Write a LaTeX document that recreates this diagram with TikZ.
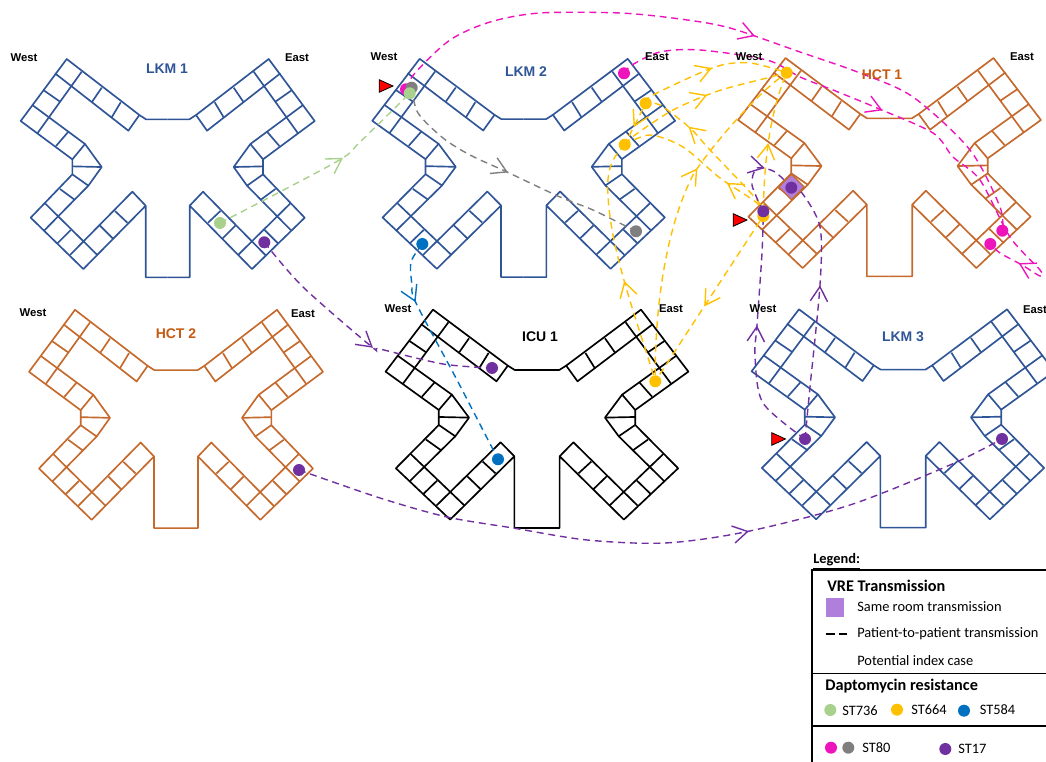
\documentclass[tikz,border=0pt]{standalone}
\usepackage{fontspec}
\setmainfont{Liberation Sans}
\newfontfamily\legendfont{Carlito}
\usetikzlibrary{arrows.meta, backgrounds, decorations.markings}
\definecolor{lkmblue}{HTML}{2F5597}
\definecolor{hctorange}{HTML}{C5692C}
\definecolor{titleorange}{HTML}{C55A11}
\definecolor{stgreen}{HTML}{A9D18E}
\definecolor{styellow}{HTML}{FFC000}
\definecolor{stblue}{HTML}{0070C0}
\definecolor{stpink}{HTML}{EE14BC}
\definecolor{stgray}{HTML}{7F7F7F}
\definecolor{stpurple}{HTML}{7030A0}
\definecolor{roomfill}{HTML}{B07FDC}
\begin{document}
\begin{tikzpicture}[
    x=0.75pt, y=-0.75pt,
    side/.style={font=\fontsize{8.5}{10}\bfseries\selectfont, inner sep=0pt},
    wardname/.style={font=\fontsize{10.5}{12}\bfseries\selectfont, inner sep=0pt},
    dot/.style={circle, fill=#1, inner sep=0pt, minimum size=9pt},
    trans/.style={line width=1.05pt, dash pattern=on 5.2pt off 3.6pt},
    tip/.style={postaction={decorate, decoration={markings, mark=at position #1 with
                {\arrow[solid, line width=1.05pt]{Straight Barb[length=11pt, width=13pt]}}}}},
    legend/.style={font=\legendfont\fontsize{10.8}{12}\selectfont, inner sep=0pt, anchor=west},
    legendhead/.style={font=\legendfont\fontsize{12.2}{13}\bfseries\selectfont, inner sep=0pt, anchor=west},
    ward/.pic={
        \foreach \s in {1,-1} {
            \begin{scope}[xscale=\s, scale=1/3, line width=1.25pt, line join=round]
            \draw[pic actions] (0,-142) -- (-65,-142) -- (-85,-155) -- (-303,-323) -- (-441,-137)
                -- (-286,-22) -- (-286,23) -- (-411,153) -- (-253,307) -- (-66,117) -- (-66,332) -- (0,332);
            \draw[pic actions] (-85,-155) -- (-118,-108) -- (-338,-280);
            \draw[pic actions] (-258,-285) -- (-391,-100);
            \draw[pic actions] (-406,-185) -- (-248,-68) -- (-286,-22);
            \draw[pic actions] (-248,-68) -- (-198,1) -- (-238,57) -- (-286,23);
            \draw[pic actions] (-286,-1) -- (-198,1);
            \draw[pic actions] (-238,57) -- (-371,192);
            \draw[pic actions] (-368,110) -- (-211,265);
            \draw[pic actions] (-66,117) -- (-106,75) -- (-293,265);
            % room walls
            \draw[pic actions] (-373,-230) -- (-323,-195) (-228,-193) -- (-198,-237) (-168,-148) -- (-141,-193);
            \draw[pic actions] (-335,-62) -- (-298,-105) (-323,67) -- (-278,100);
            \draw[pic actions] (-158,133) -- (-121,168) (-203,177) -- (-163,217) (-331,230) -- (-291,190);
            \end{scope}
        }
    },
    indexmark/.pic={
        \draw[fill=red, line width=0.6pt] (-6.8,-6.3) -- (7,0) -- (-6.8,6.3) -- cycle;
    },
]
\path[use as bounding box, clip] (0,0) rectangle (1046,762);

% ward labels
\node[side]                     (westa) at (24,58)    {West};
\node[side]                     (easta) at (297,58)   {East};
\node[side]                     (westb) at (384,57)   {West};
\node[side]                     (eastb) at (657,57)   {East};
\node[side]                     (westc) at (749,57)   {West};
\node[side]                     (eastc) at (1022,57)  {East};
\node[side]                     (westd) at (33,313)   {West};
\node[side]                     (eastd) at (303,314)  {East};
\node[side]                     (weste) at (398,309)  {West};
\node[side]                     (easte) at (671,309)  {East};
\node[side]                     (westf) at (763,309)  {West};
\node[side]                     (eastf) at (1035,310) {East};
\node[wardname, lkmblue]        (lkma)  at (167,69)   {LKM 1};
\node[wardname, lkmblue]        (lkmb)  at (526,72)   {LKM 2};
\node[wardname, titleorange]    (hcta)  at (882,75)   {HCT 1};
\node[wardname, titleorange]    (hctb)  at (176,334)  {HCT 2};
\node[wardname]                 (icua)  at (540,337)  {ICU 1};
\node[wardname, lkmblue]        (lkmc)  at (903,337)  {LKM 3};

% same room patch
\node[draw=hctorange, fill=roomfill, line width=0.9pt, rotate=45, minimum size=13.5pt, inner sep=0pt] (room) at (791.5,187) {};

% isolates
\node[dot=stgreen]  (lkmagreen)  at (220,223)     {};
\node[dot=stpurple] (lkmapurple) at (264.3,242.3) {};
\node[dot=stpink]   (lkmbpink)   at (406,89.3)    {};
\node[dot=stgray]   (lkmbgray)   at (411.7,87.7)  {};
\node[dot=stgreen]  (lkmbgreen)  at (409.7,93.3)  {};
\node[dot=stpink]   (lkmbpinkb)  at (624,73.3)    {};
\node[dot=styellow] (lkmbyella)  at (645.7,103.3) {};
\node[dot=styellow] (lkmbyellb)  at (624.7,144.7) {};
\node[dot=stgray]   (lkmbgrayb)  at (636,231.3)   {};
\node[dot=stblue]   (lkmbblue)   at (422.3,244)   {};
\node[dot=styellow] (hctayella)  at (786.7,72.7)  {};
\node[dot=styellow] (hctayellb)  at (763.3,216)   {};
\node[dot=stpurple] (hctapurple) at (763.3,211.3) {};
\node[dot=stpurple] (hctaroom)   at (791.3,187.7) {};
\node[dot=stpink]   (hctapinka)  at (1002.3,230.7){};
\node[dot=stpink]   (hctapinkb)  at (990.3,244)   {};
\node[dot=stpurple] (icupurple)  at (492,368)     {};
\node[dot=styellow] (icuyellow)  at (655.3,381.3) {};
\node[dot=stblue]   (icublue)    at (498,459.3)   {};
\node[dot=stpurple] (hctbpurple) at (299,470)     {};
\node[dot=stpurple] (lkmcpurple) at (805,439)     {};
\node[dot=stpurple] (lkmcpurpleb) at (1002,439)   {};

\pic at (386,86)  {indexmark};
\pic at (740,220) {indexmark};
\pic at (778.5,439) {indexmark};

\begin{scope}[on background layer]
\pic[draw=lkmblue]          at (167.7,166.7) {ward};
\pic[draw=lkmblue, xscale=1.03] at (523.7,166.5) {ward};
\pic[draw=hctorange, xscale=1.03] at (889.5,165.7) {ward};
\pic[draw=hctorange]        at (176,417.5) {ward};
\pic[draw=black, xscale=1.03] at (537,417.3) {ward};
\pic[draw=lkmblue, xscale=1.03] at (903,417) {ward};

% transmissions
\draw[trans, stgreen, tip=0.6] plot[smooth] coordinates {(lkmagreen) (336,162) (360,142) (409.7,93.3)};
\draw[trans, stpurple, tip=0.55] plot[smooth] coordinates {(lkmapurple) (303,287) (372,347) (380,349) (443,364) (icupurple)};
\draw[trans, stpurple, tip=0.63] plot[smooth] coordinates {(hctbpurple) (380,498) (447,517) (513,528) (587,540) (665,543) (745,532) (850,505) (950,465) (lkmcpurpleb)};
\draw[trans, stblue, tip=0.26] plot[smooth] coordinates {(lkmbblue) (411,262) (412,285) (416,303) (457,380) (icublue)};
\draw[trans, stgray, tip=0.49] plot[smooth] coordinates {(lkmbgray) (418,113) (443,138) (470,155) (507,172) (560,197) (593,210) (lkmbgrayb)};
\draw[trans, stpink, tip=0.53] plot[smooth] coordinates {(lkmbpink) (415,73) (450,40) (490,22) (540,13) (620,13) (680,19) (730,28) (800,52) (860,73) (913,97) (970,150) (1000,207) (hctapinka)};
\draw[trans, stpink, tip=0.48, tip=0.94] plot[smooth] coordinates {(lkmbpinkb) (632,65) (660,52) (700,50) (767,60) (800,77) (833,90) (877,108) (933,133) (953,157) (980,180) (1010,237) (1040,270) (1040,276) (1022,265) (1000,253) (hctapinkb)};
\draw[trans, styellow, tip=0.5] plot[smooth] coordinates {(lkmbyella) (653,95) (715,67) (750,63) (hctayella)};
\draw[trans, styellow, tip=0.54] plot[smooth] coordinates {(lkmbyellb) (635,135) (673,110) (718,91) (767,78) (hctayella)};
\draw[trans, styellow, tip=0.7] plot[smooth] coordinates {(hctayellb) (757,200) (710,150) (690,128) (660,105) (lkmbyella)};
\draw[trans, styellow, tip=0.3] plot[smooth] coordinates {(hctayellb) (757,203) (720,178) (683,147) (650,135) (lkmbyellb)};
\draw[trans, styellow, tip=0.6] (lkmbyella) -- (lkmbyellb);
\draw[trans, styellow, tip=0.42] (icuyellow) .. controls (640,330) and (610,250) .. (608,195) .. controls (606,170) and (613,158) .. (lkmbyellb);
\draw[trans, styellow, tip=0.63] (icuyellow) .. controls (655,310) and (665,230) .. (693,175) .. controls (705,155) and (750,100) .. (hctayella);
\draw[trans, styellow, tip=0.55] (hctayellb) -- (icuyellow);
\draw[trans, styellow, tip=0.5] (hctayellb) .. controls (764,170) and (768,120) .. (hctayella);
\draw[trans, stpurple, tip=0.54] plot[smooth] coordinates {(lkmcpurple) (763,403) (755,357) (757,325) (762,253) (hctapurple)};
\draw[trans, stpurple, tip=0.585] plot[smooth] coordinates {(lkmcpurple) (810,387) (820,285) (820,227) (802,193) (hctaroom)};
\draw[trans, stpurple, tip=0.62] plot[smooth] coordinates {(hctapurple) (752,185) (757,168) (775,172) (hctaroom)};
\end{scope}

% legend
\node[legendhead, font=\legendfont\fontsize{10.8}{12}\bfseries\selectfont] (legtitle) at (813,561) {\underline{Legend:}};
\draw[line width=1pt] (812,570) rectangle (1060,780);
\draw[line width=1pt] (812,673.7) -- (1060,673.7) (812,726) -- (1060,726);
\node[legendhead] (legvre)   at (827,585.5) {VRE Transmission};
\node[fill=roomfill, minimum size=13.8pt, inner sep=0pt] (legroom) at (834.8,607.3) {};
\node[legend] (legsame)      at (857,607)   {Same room transmission};
\coordinate (legdasha) at (825.7,634);
\coordinate (legdashb) at (847.5,634);
\draw[line width=1.5pt, dash pattern=on 6.7pt off 2.9pt] (legdasha) -- (legdashb);
\node[legend] (legpatient)   at (857,634)   {Patient-to-patient transmission};
\node[legend] (legindex)     at (857,660.5) {Potential index case};
\node[legendhead] (legdapto) at (825,686)   {Daptomycin resistance};
\node[dot=stgreen]  (legst7) at (830.3,710) {};
\node[legend] (legst7t)      at (842,710.5) {ST736};
\node[dot=styellow] (legst6) at (897,709.7) {};
\node[legend] (legst6t)      at (911,709.5) {ST664};
\node[dot=stblue]   (legst5) at (964,710.7) {};
\node[legend] (legst5t)      at (979.5,709.5) {ST584};
\node[dot=stpink]   (legst8) at (831,747.7) {};
\node[dot=stgray]   (legst8b) at (848.3,747.7) {};
\node[legend] (legst8t)      at (862,748)   {ST80};
\node[dot=stpurple] (legst1) at (945.3,749) {};
\node[legend] (legst1t)      at (958,749)   {ST17};
\end{tikzpicture}
\end{document}
